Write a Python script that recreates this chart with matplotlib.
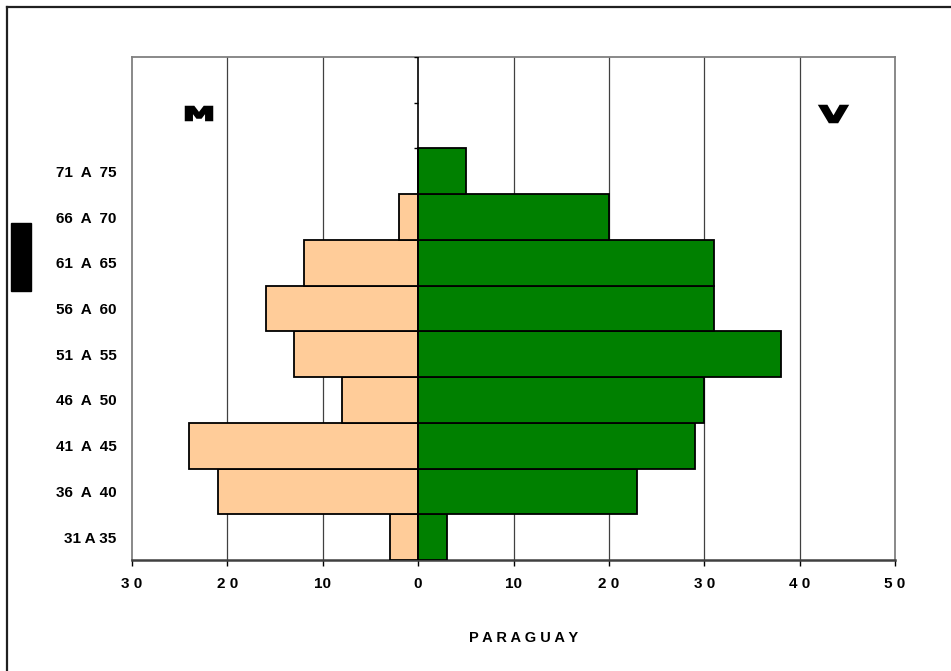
import matplotlib
matplotlib.use("Agg")
import matplotlib.pyplot as plt
from matplotlib.patches import Rectangle, PathPatch
from matplotlib.lines import Line2D
from matplotlib.textpath import TextPath
from matplotlib.font_manager import FontProperties
from matplotlib.transforms import Affine2D

plt.rcParams['font.family'] = ['Liberation Sans', 'DejaVu Sans']

# age groups, bottom to top
grupos = ["31 A 35", "36  A  40", "41  A  45", "46  A  50", "51  A  55",
          "56  A  60", "61  A  65", "66  A  70", "71  A  75"]
mujeres = [3, 21, 24, 8, 13, 16, 12, 2, 0]     # M, drawn to the left
varones = [3, 23, 29, 30, 38, 31, 31, 20, 5]   # V, drawn to the right
xticks = [-30, -20, -10, 0, 10, 20, 30, 40, 50]
xlabels = ["3 0", "2 0", "10", "0", "10", "2 0", "3 0", "4 0", "5 0"]

W, H = 951, 671
fig = plt.figure(figsize=(W / 100, H / 100), dpi=100)
ax = fig.add_axes([132 / W, (H - 560) / H, (895 - 132) / W, (560 - 57) / H])

pos = list(range(len(grupos)))
ax.barh(pos, [-m for m in mujeres], height=1.0, color='#FFCC99',
        edgecolor='black', linewidth=1.3, zorder=3)
ax.barh(pos, varones, height=1.0, color='#008000',
        edgecolor='black', linewidth=1.3, zorder=3)

ax.set_xlim(-30, 50)
ax.set_ylim(-0.5, 10.5)

# vertical grid
for x in xticks:
    if x in (-30, 0, 50):
        continue
    ax.axvline(x, color='#404040', linewidth=0.9, zorder=1)
# center axis with its small ticks
ax.axvline(0, color='black', linewidth=1.2, zorder=4)
ax.hlines([8.5, 9.5, 10.5], -0.45, 0, color='black', linewidth=1.0, zorder=4)

ax.set_xticks(xticks)
ax.set_xticklabels(xlabels, fontsize=11, fontweight='bold')
ax.tick_params(axis='x', direction='out', length=4, width=1, pad=8)
ax.set_yticks(pos)
ax.set_yticklabels(grupos, fontsize=11, fontweight='bold')
ax.tick_params(axis='y', length=0, pad=11)

for side in ['top', 'left', 'right']:
    ax.spines[side].set_color('#808080')
    ax.spines[side].set_linewidth(1.3)
ax.spines['bottom'].set_color('#404040')
ax.spines['bottom'].set_linewidth(1.8)

fig.text(524 / W, 1 - 638 / H, "P A R A G U A Y", ha='center', va='center',
         fontsize=10.5, fontweight='bold')

# heavy wide letters M and V
fp = FontProperties(family='DejaVu Sans', weight='bold')
for letra, x0, x1, y0, y1 in [("M", 186, 212, 107, 120), ("V", 820, 847, 106, 122)]:
    tp = TextPath((0, 0), letra, size=1, prop=fp)
    ext = tp.get_extents()
    tr = Affine2D().translate(-ext.x0, -ext.y0).scale(
        (x1 - x0) / 100 / ext.width, (y1 - y0) / 100 / ext.height
    ).translate(x0 / 100, (H - y1) / 100) + fig.dpi_scale_trans
    fig.patches.append(PathPatch(tp, transform=tr, facecolor='black',
                                 edgecolor='black', linewidth=1.8))

# black tab on the left
fig.patches.append(Rectangle((11 / W, (H - 291) / H), 20 / W, 68 / H,
                             transform=fig.transFigure, color='black'))

# outer frame (only top and left visible)
fig.lines.append(Line2D([6.5 / W, 6.5 / W], [0, 1 - 7 / H], transform=fig.transFigure,
                        color='#202020', linewidth=1.6))
fig.lines.append(Line2D([6.5 / W, 1], [1 - 7 / H, 1 - 7 / H], transform=fig.transFigure,
                        color='#202020', linewidth=1.6))

plt.savefig("out.png", dpi=100)
